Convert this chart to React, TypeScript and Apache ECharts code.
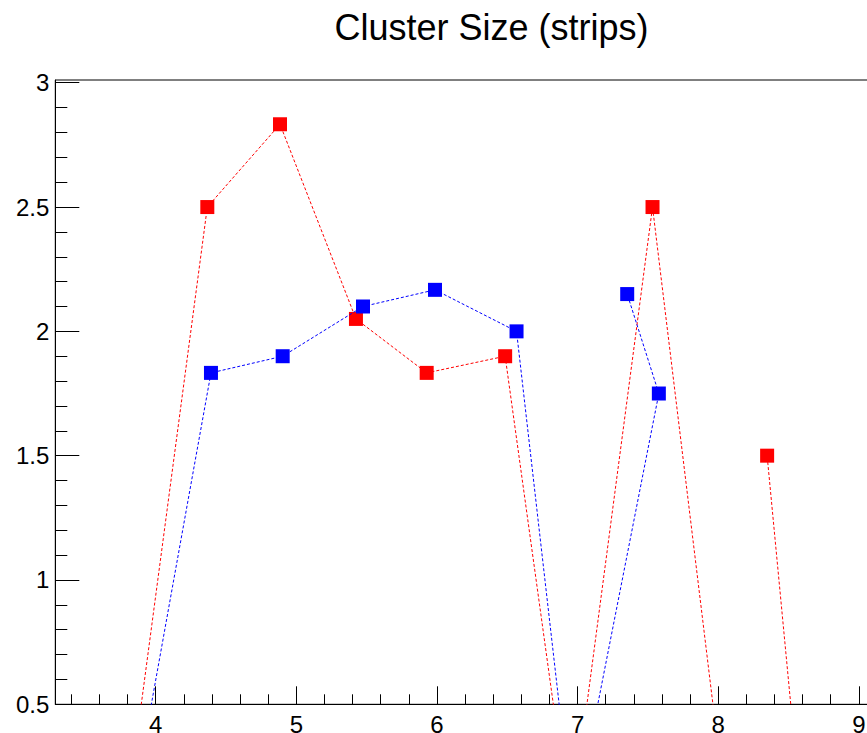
import React, { useEffect, useRef } from "react";
import * as echarts from "echarts";

const titleText = "Cluster Size (strips)";

// Red graph (points in drawing order; zeros lie below the visible range)
const redX = [3.78, 4.367, 4.884, 5.424, 5.927, 6.485, 6.95, 7.533, 8.07, 8.6, 8.348];
const redY = [0, 2.5, 2.833, 2.05, 1.833, 1.9, 0, 2.5, 0, 0, 1.5];

// Blue graph
const blueX = [3.81, 4.393, 4.903, 5.474, 5.986, 6.566, 6.97, 7.578, 7.353];
const blueY = [0, 1.833, 1.9, 2.1, 2.167, 2.0, 0, 1.75, 2.15];

const xMajorTicks = [4, 5, 6, 7, 8, 9];
const yMajorTicks = [0.5, 1, 1.5, 2, 2.5, 3];
const xRange = [3.286, 9.3];
const yRange = [0.5, 3.011];

function minorTicks(from: number, to: number, step: number, majors: number[]) {
  const out: number[] = [];
  const n = Math.round((to - from) / step);
  for (let i = 0; i <= n; i++) {
    const v = Math.round((from + i * step) * 1000) / 1000;
    if (!majors.some((m) => Math.abs(m - v) < 1e-6)) out.push(v);
  }
  return out;
}

const FONT = "Liberation Sans";

export default function App() {
  const ref = useRef<HTMLDivElement>(null);
  useEffect(() => {
    if (!ref.current) return;
    const chart = echarts.init(ref.current, null, { renderer: "svg" });
    const xMinor = minorTicks(3.4, 9.2, 0.2, xMajorTicks);
    const yMinor = minorTicks(0.6, 2.9, 0.1, yMajorTicks);
    const black = { color: "#000", width: 1 };
    const mk = (xs: number[], ys: number[]) => xs.map((x, i) => [x, ys[i]]);
    chart.setOption({
      animation: false,
      backgroundColor: "#fff",
      graphic: [
        {
          type: "text",
          x: 491.5,
          y: 27,
          style: {
            text: titleText,
            font: `36px "${FONT}"`,
            fill: "#000",
            textAlign: "center",
            textVerticalAlign: "middle",
          },
        },
      ],
      grid: {
        left: 55.3,
        top: 80,
        right: -34,
        bottom: 28.7,
        containLabel: false,
        outerBoundsMode: "none",
        show: true,
        borderColor: "#000",
        borderWidth: 1,
        backgroundColor: "transparent",
      },
      xAxis: [
        {
          type: "value",
          min: xRange[0],
          max: xRange[1],
          position: "bottom",
          axisLine: { show: true, onZero: false, lineStyle: black },
          axisTick: { show: true, inside: true, length: 18, customValues: xMajorTicks, lineStyle: black },
          axisLabel: { show: true, customValues: xMajorTicks, fontSize: 24, color: "#000", fontFamily: FONT, margin: 8 },
          splitLine: { show: false },
        },
        {
          type: "value",
          min: xRange[0],
          max: xRange[1],
          position: "bottom",
          axisLine: { show: false, onZero: false },
          axisTick: { show: true, inside: true, length: 10, customValues: xMinor, lineStyle: black },
          axisLabel: { show: false },
          splitLine: { show: false },
        },
      ],
      yAxis: [
        {
          type: "value",
          min: yRange[0],
          max: yRange[1],
          position: "left",
          axisLine: { show: true, onZero: false, lineStyle: black },
          axisTick: { show: true, inside: true, length: 24, customValues: yMajorTicks, lineStyle: black },
          axisLabel: { show: true, customValues: yMajorTicks, fontSize: 24, color: "#000", fontFamily: FONT, margin: 6 },
          splitLine: { show: false },
        },
        {
          type: "value",
          min: yRange[0],
          max: yRange[1],
          position: "left",
          axisLine: { show: false, onZero: false },
          axisTick: { show: true, inside: true, length: 12, customValues: yMinor, lineStyle: black },
          axisLabel: { show: false },
          splitLine: { show: false },
        },
      ],
      series: [
        {
          type: "line",
          xAxisIndex: 0,
          yAxisIndex: 0,
          data: mk(redX, redY),
          symbol: "rect",
          symbolSize: 14,
          showSymbol: true,
          clip: true,
          itemStyle: { color: "#ff0000" },
          lineStyle: { color: "#ff0000", width: 1, type: [3, 2] },
          z: 2,
        },
        {
          type: "line",
          xAxisIndex: 0,
          yAxisIndex: 0,
          data: mk(blueX, blueY),
          symbol: "rect",
          symbolSize: 14,
          showSymbol: true,
          clip: true,
          itemStyle: { color: "#0000ff" },
          lineStyle: { color: "#0000ff", width: 1, type: [3, 2] },
          z: 3,
        },
      ],
    });
    return () => chart.dispose();
  }, []);
  return (
    <div style={{ position: "fixed", left: 0, top: 0, width: 867, height: 733, background: "#fff", overflow: "hidden" }}>
      <div ref={ref} style={{ width: 867, height: 733 }} />
    </div>
  );
}
